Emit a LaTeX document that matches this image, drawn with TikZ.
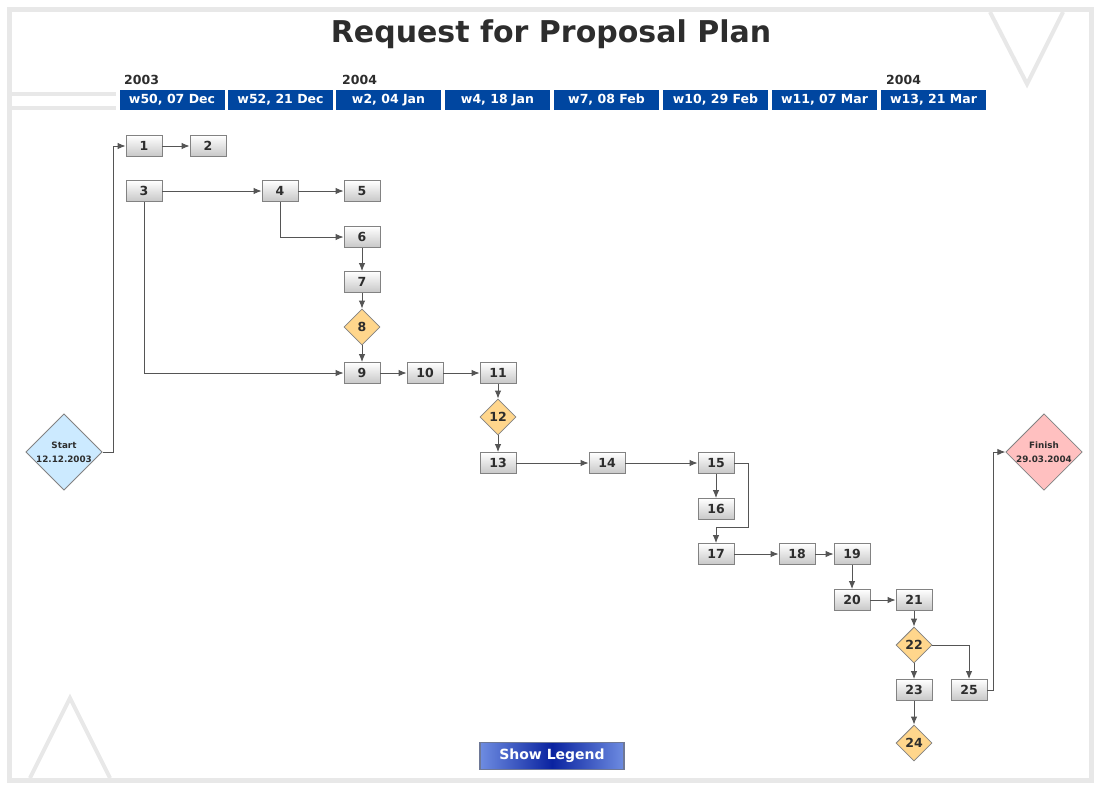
\documentclass[tikz,border=0pt]{standalone}
\usepackage{fontspec}
\setmainfont{DejaVu Sans}
\usetikzlibrary{shapes.geometric,arrows.meta}
\definecolor{hdr}{RGB}{0,70,160}
\definecolor{frame}{RGB}{232,232,232}
\definecolor{txt}{RGB}{45,45,45}
\definecolor{boxline}{RGB}{130,130,130}
\definecolor{msfill}{RGB}{255,214,140}
\definecolor{startfill}{RGB}{204,234,255}
\definecolor{finfill}{RGB}{255,192,192}
\definecolor{conncol}{RGB}{85,85,85}
\definecolor{btndark}{RGB}{10,35,160}
\definecolor{btnlight}{RGB}{110,140,225}
\definecolor{btnline}{RGB}{110,120,150}
\tikzset{
  task/.style={draw=boxline, line width=0.8pt, top color=white, bottom color=black!22,
    minimum width=36pt, minimum height=21pt, inner sep=0pt, text=txt,
    font=\bfseries\fontsize{12.5}{14}\selectfont},
  ms/.style={diamond, draw=boxline, line width=0.8pt, fill=msfill, minimum width=36pt,
    minimum height=36pt, inner sep=0pt, aspect=1, text=txt,
    font=\bfseries\fontsize{12.5}{14}\selectfont},
  bigms/.style={diamond, draw=boxline, line width=0.8pt, minimum width=74pt,
    minimum height=74pt, inner sep=0pt, aspect=1, text=txt, align=center,
    font=\bfseries\fontsize{8.8}{14}\selectfont},
  hdrbox/.style={fill=hdr, minimum width=105pt, minimum height=20pt, inner sep=0pt,
    text=white, font=\bfseries\fontsize{12.5}{14}\selectfont},
  yearlbl/.style={anchor=base west, text=txt, inner sep=0pt, font=\bfseries\fontsize{12.5}{14}\selectfont},
  conn/.style={draw=conncol, line width=1pt, -{Latex[length=8pt,width=6.5pt]}},
  deco/.style={draw=frame, line width=4pt}
}
\begin{document}
\begin{tikzpicture}[x=1pt,y=-1pt]
\useasboundingbox (0,0) rectangle (1100,790);
\fill[white] (0,0) rectangle (1100,790);
% frame and decorations
\draw[draw=frame, line width=5pt] (9.5,9.5) rectangle (1091.5,780.5);
\draw[deco] (12,94) -- (116,94);
\draw[deco] (12,108) -- (116,108);
\draw[deco] (990,12) -- (1027,84) -- (1063,12);
\draw[deco] (30,778) -- (70,698) -- (110,778);
% title
\node[text=txt, font=\bfseries\fontsize{30}{34}\selectfont] (title) at (551,34) {Request for Proposal Plan};
% years
\node[yearlbl] (y1) at (124,84) {2003};
\node[yearlbl] (y2) at (342,84) {2004};
\node[yearlbl] (y3) at (886,84) {2004};
% header
\node[hdrbox] (h1) at (172,100) {w50, 07 Dec};
\node[hdrbox] (h2) at (280.5,100) {w52, 21 Dec};
\node[hdrbox] (h3) at (388.5,100) {w2, 04 Jan};
\node[hdrbox] (h4) at (497.5,100) {w4, 18 Jan};
\node[hdrbox] (h5) at (606.5,100) {w7, 08 Feb};
\node[hdrbox] (h6) at (715.5,100) {w10, 29 Feb};
\node[hdrbox] (h7) at (824.5,100) {w11, 07 Mar};
\node[hdrbox] (h8) at (933.5,100) {w13, 21 Mar};
% nodes
\node[bigms, fill=startfill] (start) at (64,452) {Start\\12.12.2003};
\node[bigms, fill=finfill] (finish) at (1044,452) {Finish\\29.03.2004};
\node[task] (t1) at (144,146) {1};
\node[task] (t2) at (208,146) {2};
\node[task] (t3) at (144,191) {3};
\node[task] (t4) at (280,191) {4};
\node[task] (t5) at (362,191) {5};
\node[task] (t6) at (362,237) {6};
\node[task] (t7) at (362,282) {7};
\node[ms]   (d8) at (362,327) {8};
\node[task] (t9) at (362,373) {9};
\node[task] (t10) at (425,373) {10};
\node[task] (t11) at (498,373) {11};
\node[ms]   (d12) at (498,417) {12};
\node[task] (t13) at (498,463) {13};
\node[task] (t14) at (607,463) {14};
\node[task] (t15) at (716,463) {15};
\node[task] (t16) at (716,509) {16};
\node[task] (t17) at (716,554) {17};
\node[task] (t18) at (797,554) {18};
\node[task] (t19) at (852,554) {19};
\node[task] (t20) at (852,600) {20};
\node[task] (t21) at (914,600) {21};
\node[ms]   (d22) at (914,645) {22};
\node[task] (t23) at (914,690) {23};
\node[ms]   (d24) at (914,743) {24};
\node[task] (t25) at (969,690) {25};
% connectors
\draw[conn] (start.east) -- ++(11,0) |- (t1.west);
\draw[conn] (t1) -- (t2);
\draw[conn] (t3) -- (t4);
\draw[conn] (t4) -- (t5);
\draw[conn] (t4.south) |- (t6.west);
\draw[conn] (t6) -- (t7);
\draw[conn] (t7) -- (d8);
\draw[conn] (d8) -- (t9);
\draw[conn] (t3.south) |- (t9.west);
\draw[conn] (t9) -- (t10);
\draw[conn] (t10) -- (t11);
\draw[conn] (t11) -- (d12);
\draw[conn] (d12) -- (t13);
\draw[conn] (t13) -- (t14);
\draw[conn] (t14) -- (t15);
\draw[conn] (t15) -- (t16);
\draw[conn] (t15.east) -- ++(14,0) -- ++(0,64) -| (t17.north);
\draw[conn] (t17) -- (t18);
\draw[conn] (t18) -- (t19);
\draw[conn] (t19) -- (t20);
\draw[conn] (t20) -- (t21);
\draw[conn] (t21) -- (d22);
\draw[conn] (d22) -- (t23);
\draw[conn] (t23) -- (d24);
\draw[conn] (d22.east) -| (t25.north);
\draw[conn] (t25.east) -- ++(6,0) |- (finish.west);
% button
\node[draw=btnline, line width=1.2pt, left color=btnlight, right color=btnlight, middle color=btndark,
  minimum width=144pt, minimum height=27pt, inner sep=0pt, text=white,
  font=\bfseries\fontsize{14}{16}\selectfont] (legend) at (552,756) {Show Legend};
\end{tikzpicture}
\end{document}
